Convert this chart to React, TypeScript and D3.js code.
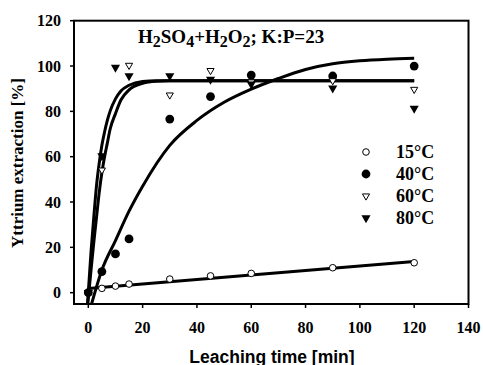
import React from 'react';
import * as d3 from 'd3';

// measured points
const times = [0, 5, 10, 15, 30, 45, 60, 90, 120];
const ext15 = [0, 1.9, 2.9, 3.8, 6, 7.4, 8.5, 11, 13.2];
const ext40 = [0, 9.3, 17.1, 23.7, 76.6, 86.5, 96, 95.6, 100];
const ext60 = [0, 54.1, null, 100.3, 87.2, 98, 93, 93.5, 89.7];
const ext80 = [0, 60.3, 99.4, 95.6, 95.6, 94.1, 92, 90.2, 81.3];

// fitted curves as [time, extraction]
const fit15: [number, number][] = [[0, 1.8], [120, 13.8]];
const fit40: [number, number][] = [
  [1.2, -5], [5, 10], [10, 23], [15, 36], [20, 47], [30, 65], [40, 76], [50, 84],
  [60, 89.8], [70, 94.5], [80, 98.5], [90, 101], [100, 102.3], [110, 103], [120, 103.4],
];
const fit60: [number, number][] = [
  [-0.2, -5], [1, 10], [2, 22], [3, 33], [4, 44], [5, 53], [6, 60], [7, 66], [8, 72],
  [10, 79], [12, 85], [15, 89.5], [20, 92.4], [25, 93.3], [30, 93.5], [120, 93.5],
];
const fit80: [number, number][] = [
  [-0.3, -5], [1, 18], [2, 33], [3, 47], [4, 57], [5, 65], [6, 71], [7, 76], [8, 80],
  [10, 85.5], [12, 89], [15, 91.5], [20, 93.2], [25, 93.5], [30, 93.5], [120, 93.5],
];

const xTicks = [0, 20, 40, 60, 80, 100, 120, 140];
const yTicks = [0, 20, 40, 60, 80, 100, 120];
const legendLabels = ['15°C', '40°C', '60°C', '80°C'];

const serif = "'Liberation Serif', 'Times New Roman', serif";
const sans = "'Liberation Sans', Arial, sans-serif";

const left = 74, right = 468.5, top = 20.7, bottom = 304;

export default function App() {
  const x = d3.scaleLinear().domain([-5.27, 140]).range([left, right]);
  const y = d3.scaleLinear().domain([-5, 120]).range([bottom, top]);

  const line = d3.line<[number, number]>()
    .x(d => x(d[0]))
    .y(d => y(d[1]))
    .curve(d3.curveMonotoneX);

  const triBig = d3.symbol().type(d3.symbolTriangle).size(36)()!;
  const triSmall = d3.symbol().type(d3.symbolTriangle).size(22)()!;

  const marker = (kind: number, cx: number, cy: number, key: string) => {
    if (kind === 0) return <circle key={key} cx={cx} cy={cy} r={3.3} fill="#fff" stroke="#000" strokeWidth={1} />;
    if (kind === 1) return <circle key={key} cx={cx} cy={cy} r={4.4} fill="#000" />;
    if (kind === 2) return <path key={key} d={triSmall} transform={`translate(${cx},${cy}) rotate(180)`} fill="#fff" stroke="#000" strokeWidth={1} />;
    return <path key={key} d={triBig} transform={`translate(${cx},${cy}) rotate(180)`} fill="#000" />;
  };

  const series = [ext15, ext40, ext60, ext80];
  const serifBold = { fontFamily: serif, fontWeight: 'bold' as const };

  return (
    <svg width={483} height={365} style={{ position: 'absolute', left: 0, top: 0 }}>
      <defs>
        <clipPath id="plot">
          <rect x={left} y={top} width={right - left} height={bottom - top} />
        </clipPath>
      </defs>
      <rect x={0} y={0} width={483} height={365} fill="#fff" />

      {/* curves */}
      <g clipPath="url(#plot)" fill="none" stroke="#000" strokeWidth={3}>
        {[fit15, fit40, fit60, fit80].map((f, i) => <path key={i} d={line(f)!} />)}
      </g>

      {/* points */}
      <g>
        {series.map((s, si) => times.map((t, i) => s[i] == null ? null : marker(si, x(t), y(s[i] as number), `${si}-${i}`)))}
      </g>

      {/* frame */}
      <rect x={left} y={top} width={right - left} height={bottom - top} fill="none" stroke="#000" strokeWidth={2} />

      {/* x axis */}
      <g style={{ ...serifBold, fontSize: 16 }} textAnchor="middle">
        {xTicks.map(t => (
          <g key={t}>
            <line x1={x(t)} x2={x(t)} y1={bottom} y2={bottom + 4} stroke="#000" strokeWidth={1.5} />
            <text x={x(t)} y={bottom + 29}>{t}</text>
          </g>
        ))}
      </g>
      {/* y axis */}
      <g style={{ ...serifBold, fontSize: 16 }} textAnchor="end">
        {yTicks.map(t => (
          <g key={t}>
            <line x1={left - 4} x2={left} y1={y(t)} y2={y(t)} stroke="#000" strokeWidth={1.5} />
            <text x={61} y={y(t)} dy="0.35em">{t}</text>
          </g>
        ))}
      </g>

      <text x={272} y={363} textAnchor="middle" style={{ fontFamily: sans, fontWeight: 'bold', fontSize: 17.5 }}>
        Leaching time [min]
      </text>
      <text transform={`translate(23, 163) rotate(-90)`} textAnchor="middle" style={{ ...serifBold, fontSize: 17 }}>
        Yttrium extraction [%]
      </text>

      {/* title */}
      <text x={138} y={43} style={{ ...serifBold, fontSize: 19 }}>
        H<tspan dy={4} style={{ fontSize: 16 }}>2</tspan><tspan dy={-4}>SO</tspan><tspan dy={4} style={{ fontSize: 16 }}>4</tspan>
        <tspan dy={-4}>+H</tspan><tspan dy={4} style={{ fontSize: 16 }}>2</tspan><tspan dy={-4}>O</tspan>
        <tspan dy={4} style={{ fontSize: 16 }}>2</tspan><tspan dy={-4}>; K:P=23</tspan>
      </text>

      {/* legend */}
      <g style={{ ...serifBold, fontSize: 18 }}>
        {legendLabels.map((l, i) => {
          const cy = 152 + i * 22;
          return (
            <g key={l}>
              {marker(i, 366, cy, 'lg' + i)}
              <text x={396} y={cy} dy="0.35em">{l}</text>
            </g>
          );
        })}
      </g>
    </svg>
  );
}
